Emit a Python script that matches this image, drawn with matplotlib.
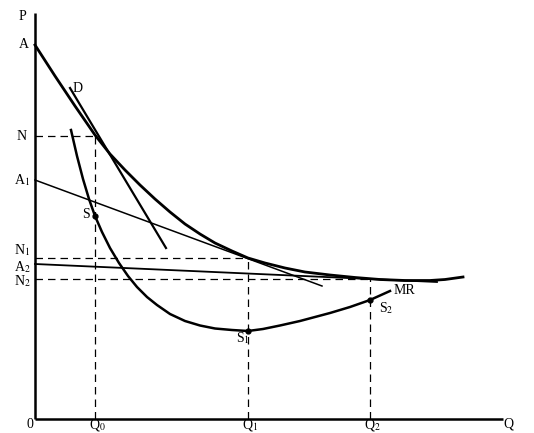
import matplotlib
matplotlib.use("Agg")
import matplotlib.pyplot as plt

plt.rcParams["font.family"] = ["Liberation Serif", "DejaVu Serif"]
plt.rcParams["mathtext.fontset"] = "stix"

# ---------------------------------------------------------------------------
# Data (Q along x, P along y)
# ---------------------------------------------------------------------------
# long-run demand / envelope curve
env_q = [0, 20, 40, 60, 75, 90, 105, 120, 135, 150, 165, 180, 197, 213,
         230, 250, 270, 295, 320, 345, 370, 395, 410, 428]
env_p = [374, 343, 313, 284, 265, 249, 234, 220, 207, 195, 185, 176, 168, 161,
         156, 151, 147, 144, 141.5, 139.5, 138.5, 138.5, 139.5, 142]

# short-run marginal revenue curve MR
mr_q = [36, 42, 48, 54, 60, 67, 75, 84, 93, 102, 112, 122, 135, 150, 165, 180,
        197, 213, 228, 245, 265, 295, 315, 335, 355]
mr_p = [289, 263, 240, 220, 203, 187, 171, 156, 143, 132, 122, 114, 105, 98, 93.5, 90.5,
        89, 88, 90, 93.5, 98, 106, 112, 119, 128]

# straight lines: D, tangent through A1, tangent through A2
d_q, d_p = [35, 131], [331, 171]
a1_q, a1_p = [0, 287], [239, 133]
a2_q, a2_p = [0, 402], [155, 137]

# equilibrium points
pts_q = [60, 213, 335]
pts_p = [203, 88, 119]
n_levels = [283, 161, 140]

q_ticks = ["Q$_0$", "Q$_1$", "Q$_2$"]
n_ticks = ["N", "N$_1$", "N$_2$"]

# ---------------------------------------------------------------------------
# Figure
# ---------------------------------------------------------------------------
fig = plt.figure(figsize=(5.34, 4.33), dpi=100)
ax = fig.add_axes([0, 0, 1, 1])
ax.set_xlim(-35, 499)
ax.set_ylim(-14, 419)
ax.axis("off")

# axes
ax.plot([0, 0], [0, 406], color="black", lw=1.8, solid_capstyle="butt")
ax.plot([0, 468], [0, 0], color="black", lw=1.8, solid_capstyle="butt")

# dashed guide lines
for q, n in zip(pts_q, n_levels):
    ax.plot([0, q], [n, n], color="black", lw=0.9, ls=(0, (6, 4)))
    ax.plot([q, q], [0, n], color="black", lw=0.9, ls=(0, (6, 4)))

ax.plot(env_q, env_p, color="black", lw=2.0, solid_joinstyle="round")
ax.plot(mr_q, mr_p, color="black", lw=1.8, solid_joinstyle="round")
ax.plot(d_q, d_p, color="black", lw=1.6)
ax.plot(a1_q, a1_p, color="black", lw=1.1)
ax.plot(a2_q, a2_p, color="black", lw=1.3)

ax.plot(pts_q, pts_p, "o", color="black", ms=3.5)

fs = 10
ax.text(-13, 402, "P", fontsize=fs, ha="center", va="center")
ax.text(-11, 374, "A", fontsize=fs, ha="center", va="center")
ax.text(-13, 239, "A$_1$", fontsize=fs, ha="center", va="center")
ax.text(-13, 152, "A$_2$", fontsize=fs, ha="center", va="center")
for n, lab, dy in zip(n_levels, n_ticks, [0, 8, -2]):
    ax.text(-13, n + dy, lab, fontsize=fs, ha="center", va="center")

ax.text(43, 331, "D", fontsize=fs, ha="center", va="center")
ax.text(55, 205, "S", fontsize=fs, ha="right", va="center")
ax.text(208, 81, "S$_1$", fontsize=fs, ha="center", va="center")
ax.text(344, 111, "S$_2$", fontsize=fs, ha="left", va="center")
ax.text(359, 128, "MR", fontsize=fs, ha="left", va="center")

ax.text(-5, -5, "0", fontsize=fs, ha="center", va="center")
for q, lab in zip(pts_q, q_ticks):
    ax.text(q + 2, -6, lab, fontsize=fs, ha="center", va="center")
ax.text(473, -5, "Q", fontsize=fs, ha="center", va="center")

fig.savefig("out.png", dpi=100)
